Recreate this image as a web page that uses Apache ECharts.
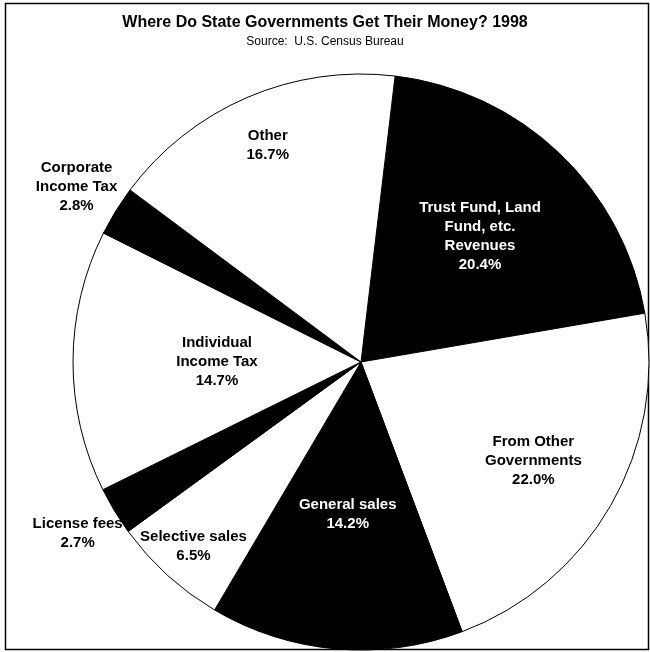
<!DOCTYPE html>
<html>
<head>
<meta charset="utf-8">
<script src="https://cdn.jsdelivr.net/npm/echarts@6/dist/echarts.min.js"></script>
<style>
html, body { margin: 0; padding: 0; background: #fff; }
#chart { width: 650px; height: 652px; }
</style>
</head>
<body>
<div id="chart"></div>
<script>
var categories = ['Trust Fund, Land\nFund, etc.\nRevenues', 'From Other\nGovernments', 'General sales',
    'Selective sales', 'License fees', 'Individual\nIncome Tax', 'Corporate\nIncome Tax', 'Other'];
var shares = [20.4, 22.0, 14.2, 6.5, 2.7, 14.7, 2.8, 16.7];
var sliceColors = ['#000000', '#ffffff', '#000000', '#ffffff', '#000000', '#ffffff', '#000000', '#ffffff'];
var labelColors = ['#ffffff', '#000000', '#ffffff', '#000000', '#000000', '#000000', '#000000', '#000000'];
// distance of each label from the centre, as a share of the radius
var labelReach = [0.60, 0.69, 0.53, 0.865, 1.15, 0.50, 1.16, 0.82];

var font = '"Liberation Sans", Arial, sans-serif';
var myChart = echarts.init(document.getElementById('chart'));

function placeLabel(p) {
    var i = p.dataIndex;
    var lay = myChart.getModel().getSeriesByIndex(0).getData().getItemLayout(i);
    var mid = (lay.startAngle + lay.endAngle) / 2;
    var d = labelReach[i] * lay.r;
    return {
        x: lay.cx + d * Math.cos(mid),
        y: lay.cy + d * Math.sin(mid),
        align: 'center',
        verticalAlign: 'middle'
    };
}

var option = {
    animation: false,
    backgroundColor: '#ffffff',
    title: {
        text: 'Where Do State Governments Get Their Money? 1998',
        subtext: 'Source:  U.S. Census Bureau',
        left: 'center',
        top: 10,
        itemGap: 5,
        textStyle: {
            fontFamily: font,
            fontSize: 16,
            fontWeight: 'bold',
            color: '#000'
        },
        subtextStyle: {
            fontFamily: font,
            fontSize: 12,
            color: '#000'
        }
    },
    graphic: [{
        type: 'rect',
        shape: { x: 5.5, y: 3.5, width: 643, height: 646 },
        style: { fill: 'none', stroke: '#000', lineWidth: 1.5 },
        z: -1
    }],
    series: [{
        type: 'pie',
        center: [361, 362],
        radius: 288,
        startAngle: 83.2,
        clockwise: true,
        avoidLabelOverlap: false,
        emphasis: { disabled: true },
        itemStyle: {
            borderColor: '#000',
            borderWidth: 1
        },
        label: {
            show: true,
            position: 'inside',
            fontFamily: font,
            fontSize: 15,
            fontWeight: 'bold',
            lineHeight: 19,
            formatter: function (p) {
                return p.name + '\n' + p.value.toFixed(1) + '%';
            }
        },
        labelLine: { show: false },
        labelLayout: placeLabel,
        data: categories.map(function (name, i) {
            return {
                name: name,
                value: shares[i],
                itemStyle: { color: sliceColors[i] },
                label: { color: labelColors[i] }
            };
        })
    }]
};
myChart.setOption(option);
</script>
</body>
</html>
